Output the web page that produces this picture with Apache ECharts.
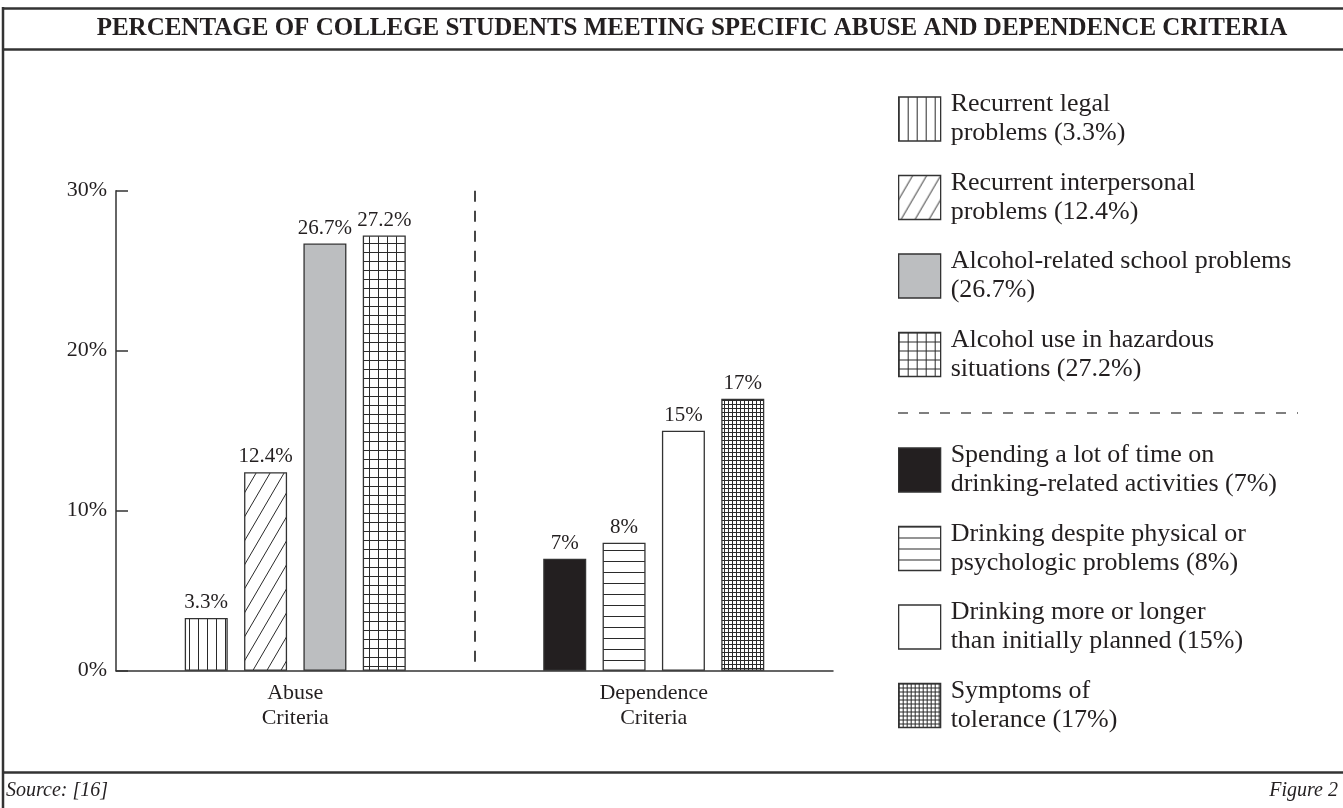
<!DOCTYPE html>
<html><head><meta charset="utf-8">
<script src="https://cdn.jsdelivr.net/npm/echarts@6/dist/echarts.min.js"></script>
<style>html,body{margin:0;padding:0;background:#fff}#c{width:1343px;height:808px}</style>
</head><body><div id="c"></div>
<script>
const categories = ['Abuse\nCriteria', 'Dependence\nCriteria'];
const abuseNames = [
  'Recurrent legal\nproblems (3.3%)',
  'Recurrent interpersonal\nproblems (12.4%)',
  'Alcohol-related school problems\n(26.7%)',
  'Alcohol use in hazardous\nsituations (27.2%)'
];
const abuseValues = [3.3, 12.4, 26.7, 27.2];
const dependenceNames = [
  'Spending a lot of time on\ndrinking-related activities (7%)',
  'Drinking despite physical or\npsychologic problems (8%)',
  'Drinking more or longer\nthan initially planned (15%)',
  'Symptoms of\ntolerance (17%)'
];
const dependenceValues = [7, 8, 15, 17];
const yTickValues = [0, 10, 20, 30];
const titleText = 'PERCENTAGE OF COLLEGE STUDENTS MEETING SPECIFIC ABUSE AND DEPENDENCE CRITERIA';
const sourceText = 'Source: [16]';
const figureText = 'Figure 2';

const FONT = '"Liberation Serif", "Times New Roman", serif';
const INK = '#231f20';
const LINE = '#333333';

function tile(w, h, draw) {
  const c = document.createElement('canvas');
  c.width = w; c.height = h;
  const g = c.getContext('2d');
  g.fillStyle = '#ffffff'; g.fillRect(0, 0, w, h);
  g.strokeStyle = '#2a2a2a'; g.lineWidth = 1;
  g.beginPath(); draw(g, w, h); g.stroke();
  return { image: c, repeat: 'repeat' };
}
const patVertical = tile(9, 4, (g, w, h) => { g.moveTo(0.5, 0); g.lineTo(0.5, h); });
const patDiagonal = tile(14, 24, (g, w, h) => {
  for (const s of [-w, 0, w]) { g.moveTo(-w + s, 2 * h); g.lineTo(2 * w + s, -h); }
});
const patGrid = tile(9, 9, (g, w, h) => { g.moveTo(0.5, 0); g.lineTo(0.5, h); g.moveTo(0, 0.5); g.lineTo(w, 0.5); });
const patHorizontal = tile(4, 11, (g, w, h) => { g.moveTo(0, 0.5); g.lineTo(w, 0.5); });
const patFine = tile(4, 4, (g, w, h) => { g.moveTo(0.5, 0); g.lineTo(0.5, h); g.moveTo(0, 0.5); g.lineTo(w, 0.5); });

const abuseFills = [patVertical, patDiagonal, '#bcbec0', patGrid];
const dependenceFills = ['#231f20', patHorizontal, '#ffffff', patFine];

const labelStyle = {
  show: true, position: 'top', distance: 5, formatter: '{c}%',
  fontFamily: FONT, fontSize: 21, color: INK
};
function makeSeries(name, i, data, fill) {
  return {
    name: name, type: 'bar', stack: 'slot' + i,
    barWidth: 43, barGap: '38%',
    data: data,
    itemStyle: { color: fill, borderColor: LINE, borderWidth: 1.3 },
    label: labelStyle
  };
}
const series = [];
abuseNames.forEach((n, i) => series.push(makeSeries(n, i, [abuseValues[i], '-'], abuseFills[i])));
dependenceNames.forEach((n, i) => series.push(makeSeries(n, i, ['-', dependenceValues[i]], dependenceFills[i])));

const legendBase = {
  orient: 'vertical', left: 893, itemWidth: 42, itemHeight: 44, itemGap: 20.5,
  icon: 'rect', selectedMode: false,
  itemStyle: { borderColor: LINE, borderWidth: 1.3 },
  textStyle: { fontFamily: FONT, fontSize: 26, lineHeight: 29, color: INK, padding: [0, 0, 0, 5] }
};

const chart = echarts.init(document.getElementById('c'), null, { renderer: 'canvas' });
chart.setOption({
  animation: false,
  backgroundColor: '#ffffff',
  grid: { left: 116, right: 510, top: 190.7, bottom: 137.3, containLabel: false },
  legend: [
    Object.assign({}, legendBase, { data: abuseNames, top: 85 }),
    Object.assign({}, legendBase, { data: dependenceNames, top: 436 })
  ],
  xAxis: {
    type: 'category', data: categories,
    axisLine: { lineStyle: { color: LINE, width: 1.5 } },
    axisTick: { show: false },
    axisLabel: { fontFamily: FONT, fontSize: 22, lineHeight: 25, color: INK, margin: 10 },
    splitLine: { show: true, showMinLine: false, showMaxLine: false,
      lineStyle: { color: LINE, width: 1.8, type: [11, 9] } }
  },
  yAxis: {
    type: 'value', min: yTickValues[0], max: yTickValues[yTickValues.length - 1], interval: yTickValues[1] - yTickValues[0],
    axisLine: { show: true, lineStyle: { color: LINE, width: 1.5 } },
    axisTick: { show: true, inside: true, length: 12, lineStyle: { color: LINE, width: 1.5 } },
    axisLabel: { formatter: '{value}%', fontFamily: FONT, fontSize: 22, color: INK, margin: 9 },
    splitLine: { show: false }
  },
  series: series,
  graphic: [
    { type: 'line', shape: { x1: 3, y1: 7, x2: 3, y2: 808 }, style: { stroke: LINE, lineWidth: 2.5 } },
    { type: 'line', shape: { x1: 2, y1: 8.5, x2: 1343, y2: 8.5 }, style: { stroke: LINE, lineWidth: 2.5 } },
    { type: 'line', shape: { x1: 2, y1: 49.5, x2: 1343, y2: 49.5 }, style: { stroke: LINE, lineWidth: 2.5 } },
    { type: 'line', shape: { x1: 2, y1: 772.5, x2: 1343, y2: 772.5 }, style: { stroke: LINE, lineWidth: 2.5 } },
    { type: 'text', x: 692, y: 29, style: { text: titleText, font: 'bold 25px ' + FONT, fill: INK, textAlign: 'center', textVerticalAlign: 'middle' } },
    { type: 'text', x: 6, y: 791, style: { text: sourceText, font: 'italic 20px ' + FONT, fill: INK, textAlign: 'left', textVerticalAlign: 'middle' } },
    { type: 'text', x: 1338, y: 791, style: { text: figureText, font: 'italic 20px ' + FONT, fill: INK, textAlign: 'right', textVerticalAlign: 'middle' } },
    { type: 'line', shape: { x1: 898, y1: 413, x2: 1298, y2: 413 }, style: { stroke: '#555', lineWidth: 1.5, lineDash: [10, 11] } }
  ]
});
</script>
</body></html>
